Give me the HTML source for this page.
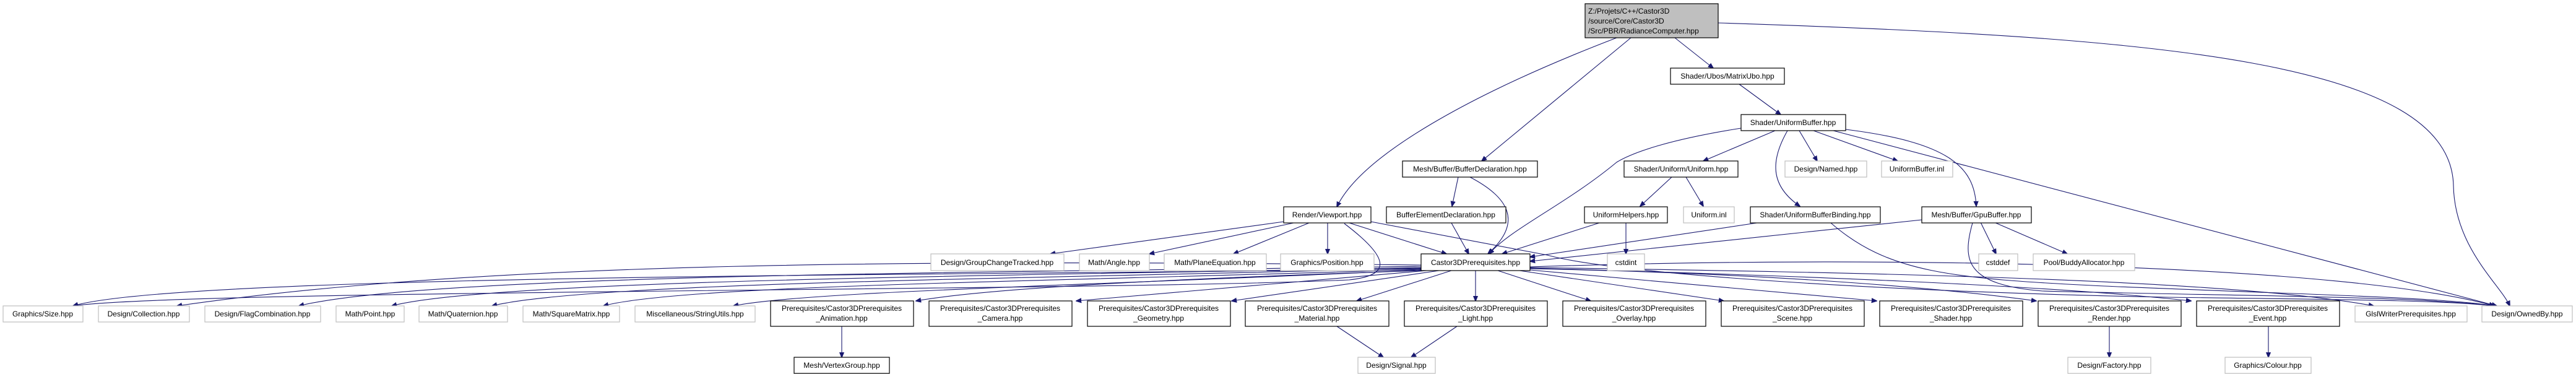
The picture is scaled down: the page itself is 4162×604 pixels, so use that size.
<!DOCTYPE html>
<html><head><meta charset="utf-8"><style>
html,body{margin:0;padding:0;background:#fff;}
svg{display:block}
text{font-family:"Liberation Sans",sans-serif;font-size:12px;fill:#000}
.n{fill:#fff;stroke:#000;stroke-width:1.2}
.g{fill:#fff;stroke:#bfbfbf;stroke-width:1.2}
.e{fill:none;stroke:#191970;stroke-width:1.1}
</style></head><body>
<svg width="4162" height="604" viewBox="0 0 4162 604" xmlns="http://www.w3.org/2000/svg">
<defs><marker id="a" viewBox="0 0 10 10" refX="9" refY="5" markerWidth="9" markerHeight="9" orient="auto" markerUnits="userSpaceOnUse"><path d="M0,1 L10,5 L0,9 z" fill="#191970" stroke="#191970"/></marker></defs>
<g class="e" marker-end="url(#a)">
<!-- main -->
<path d="M2612,61 C2380,150 2200,250 2160,334"/>
<path d="M2635,61 L2394,260"/>
<path d="M2706,61 L2768,110"/>
<path d="M2776,37 C3500,60 3960,100 3964,300 C3966,400 4040,460 4055,494"/>
<path d="M2810,136 L2877,185"/>
<!-- UniformBuffer -->
<path d="M2813,207 C2700,225 2640,245 2612,262 C2530,330 2440,370 2406,410"/>
<path d="M2868,211 L2752,260"/>
<path d="M2888,211 C2860,260 2860,300 2908,333"/>
<path d="M2907,211 L2936,260"/>
<path d="M2930,211 L3066,260"/>
<path d="M2982,209 C3150,230 3190,270 3193,333"/>
<path d="M2962,211 L4034,494"/>
<!-- Uniform -->
<path d="M2701,286 L2650,333"/>
<path d="M2724,286 L2752,333"/>
<!-- UniformHelpers -->
<path d="M2587,359 L2427,410"/>
<path d="M2627,359 L2627,410"/>
<!-- BufferDeclaration -->
<path d="M2356,286 L2346,333"/>
<path d="M2375,286 C2440,320 2460,360 2404,410"/>
<path d="M2345,360 L2373,410"/>
<!-- UniformBufferBinding -->
<path d="M2845,359 L2472,415"/>
<path d="M2958,360 C3050,440 3150,450 3400,462 C3700,475 3950,480 4030,494"/>
<!-- GpuBuffer -->
<path d="M3105,355 L2472,422"/>
<path d="M3200,359 L3225,410"/>
<path d="M3222,359 L3340,410"/>
<path d="M3187,360 C3170,420 3175,460 3300,470 C3600,478 3900,478 4030,494"/>
<!-- Viewport -->
<path d="M2074,358 L1697,410"/>
<path d="M2090,360 L1857,410"/>
<path d="M2115,360 L1993,410"/>
<path d="M2145,360 L2145,410"/>
<path d="M2180,360 L2337,410"/>
<path d="M2172,361 C2250,420 2245,445 2180,452 C1800,470 300,468 118,494"/>
<path d="M2215,358 L2500,412 C2600,440 3000,470 3500,480 C3800,484 3950,485 4030,494"/>
<!-- Castor3DPrerequisites -->
<path d="M2296,434 C1700,445 300,440 118,494"/>
<path d="M2296,428 C1500,420 800,420 286,494"/>
<path d="M2296,430 C1700,440 700,440 483,494"/>
<path d="M2296,432 C1700,445 800,450 633,494"/>
<path d="M2296,433 C1700,450 950,455 795,494"/>
<path d="M2296,435 C1700,455 1100,460 975,494"/>
<path d="M2296,436 C1800,460 1300,470 1185,494"/>
<path d="M2296,437 C1900,450 1600,465 1480,486"/>
<path d="M2305,437 L1739,486"/>
<path d="M2325,437 L1990,486"/>
<path d="M2345,437 L2192,486"/>
<path d="M2384,437 L2384,486"/>
<path d="M2420,437 L2570,486"/>
<path d="M2455,437 L2785,486"/>
<path d="M2472,436 L3032,486"/>
<path d="M2472,434 C2800,440 3100,460 3290,486"/>
<path d="M2472,433 C2900,445 3300,460 3540,486"/>
<path d="M2472,432 C3000,440 3600,450 3835,494"/>
<path d="M2472,431 C3100,410 3800,430 4030,494"/>
<!-- lower -->
<path d="M1360,527 L1360,577"/>
<path d="M2160,527 L2235,577"/>
<path d="M2354,527 L2280,577"/>
<path d="M3408,527 L3408,577"/>
<path d="M3665,527 L3665,577"/>
</g>
<!-- nodes -->
<rect x="2561" y="6" width="215" height="55" fill="#bfbfbf" stroke="#000" stroke-width="1.2"/>
<text x="2566" y="22">Z:/Projets/C++/Castor3D</text>
<text x="2566" y="38">/source/Core/Castor3D</text>
<text x="2566" y="54">/Src/PBR/RadianceComputer.hpp</text>
<g text-anchor="middle">
<rect class="n" x="2699" y="110" width="184" height="26"/><text x="2791" y="127">Shader/Ubos/MatrixUbo.hpp</text>
<rect class="n" x="2813" y="185" width="169" height="26"/><text x="2897" y="202">Shader/UniformBuffer.hpp</text>
<rect class="n" x="2266" y="260" width="218" height="26"/><text x="2375" y="277">Mesh/Buffer/BufferDeclaration.hpp</text>
<rect class="n" x="2624" y="260" width="184" height="26"/><text x="2716" y="277">Shader/Uniform/Uniform.hpp</text>
<rect class="g" x="2884" y="260" width="132" height="26"/><text x="2950" y="277">Design/Named.hpp</text>
<rect class="g" x="3040" y="260" width="115" height="26"/><text x="3097" y="277">UniformBuffer.inl</text>
<rect class="n" x="2074" y="334" width="141" height="26"/><text x="2144" y="351">Render/Viewport.hpp</text>
<rect class="n" x="2240" y="334" width="193" height="26"/><text x="2336" y="351">BufferElementDeclaration.hpp</text>
<rect class="n" x="2560" y="334" width="134" height="26"/><text x="2627" y="351">UniformHelpers.hpp</text>
<rect class="g" x="2720" y="334" width="82" height="26"/><text x="2761" y="351">Uniform.inl</text>
<rect class="n" x="2828" y="334" width="210" height="26"/><text x="2933" y="351">Shader/UniformBufferBinding.hpp</text>
<rect class="n" x="3105" y="334" width="177" height="26"/><text x="3193" y="351">Mesh/Buffer/GpuBuffer.hpp</text>
<rect class="g" x="1504" y="410" width="215" height="27"/><text x="1611" y="428">Design/GroupChangeTracked.hpp</text>
<rect class="g" x="1744" y="410" width="113" height="27"/><text x="1800" y="428">Math/Angle.hpp</text>
<rect class="g" x="1881" y="410" width="165" height="27"/><text x="1963" y="428">Math/PlaneEquation.hpp</text>
<rect class="g" x="2069" y="410" width="151" height="27"/><text x="2144" y="428">Graphics/Position.hpp</text>
<rect class="n" x="2296" y="410" width="176" height="27"/><text x="2384" y="428">Castor3DPrerequisites.hpp</text>
<rect class="g" x="2597" y="410" width="60" height="27"/><text x="2627" y="428">cstdint</text>
<rect class="g" x="3197" y="410" width="63" height="27"/><text x="3228" y="428">cstddef</text>
<rect class="g" x="3285" y="410" width="164" height="27"/><text x="3367" y="428">Pool/BuddyAllocator.hpp</text>
<rect class="g" x="5" y="494" width="129" height="26"/><text x="69" y="511">Graphics/Size.hpp</text>
<rect class="g" x="159" y="494" width="147" height="26"/><text x="232" y="511">Design/Collection.hpp</text>
<rect class="g" x="331" y="494" width="187" height="26"/><text x="424" y="511">Design/FlagCombination.hpp</text>
<rect class="g" x="543" y="494" width="110" height="26"/><text x="598" y="511">Math/Point.hpp</text>
<rect class="g" x="677" y="494" width="143" height="26"/><text x="748" y="511">Math/Quaternion.hpp</text>
<rect class="g" x="845" y="494" width="156" height="26"/><text x="923" y="511">Math/SquareMatrix.hpp</text>
<rect class="g" x="1026" y="494" width="194" height="26"/><text x="1123" y="511">Miscellaneous/StringUtils.hpp</text>
<rect class="g" x="3805" y="494" width="181" height="26"/><text x="3895" y="511">GlslWriterPrerequisites.hpp</text>
<rect class="g" x="4010" y="494" width="146" height="26"/><text x="4083" y="511">Design/OwnedBy.hpp</text>
<rect class="n" x="1245" y="486" width="231" height="41"/><text x="1360" y="502">Prerequisites/Castor3DPrerequisites</text><text x="1360" y="518">_Animation.hpp</text>
<rect class="n" x="1501" y="486" width="231" height="41"/><text x="1616" y="502">Prerequisites/Castor3DPrerequisites</text><text x="1616" y="518">_Camera.hpp</text>
<rect class="n" x="1757" y="486" width="231" height="41"/><text x="1872" y="502">Prerequisites/Castor3DPrerequisites</text><text x="1872" y="518">_Geometry.hpp</text>
<rect class="n" x="2012" y="486" width="232" height="41"/><text x="2128" y="502">Prerequisites/Castor3DPrerequisites</text><text x="2128" y="518">_Material.hpp</text>
<rect class="n" x="2269" y="486" width="231" height="41"/><text x="2384" y="502">Prerequisites/Castor3DPrerequisites</text><text x="2384" y="518">_Light.hpp</text>
<rect class="n" x="2525" y="486" width="231" height="41"/><text x="2640" y="502">Prerequisites/Castor3DPrerequisites</text><text x="2640" y="518">_Overlay.hpp</text>
<rect class="n" x="2781" y="486" width="231" height="41"/><text x="2896" y="502">Prerequisites/Castor3DPrerequisites</text><text x="2896" y="518">_Scene.hpp</text>
<rect class="n" x="3037" y="486" width="231" height="41"/><text x="3152" y="502">Prerequisites/Castor3DPrerequisites</text><text x="3152" y="518">_Shader.hpp</text>
<rect class="n" x="3293" y="486" width="231" height="41"/><text x="3408" y="502">Prerequisites/Castor3DPrerequisites</text><text x="3408" y="518">_Render.hpp</text>
<rect class="n" x="3549" y="486" width="231" height="41"/><text x="3664" y="502">Prerequisites/Castor3DPrerequisites</text><text x="3664" y="518">_Event.hpp</text>
<rect class="n" x="1283" y="577" width="154" height="26"/><text x="1360" y="594">Mesh/VertexGroup.hpp</text>
<rect class="g" x="2194" y="577" width="125" height="26"/><text x="2256" y="594">Design/Signal.hpp</text>
<rect class="g" x="3341" y="577" width="134" height="26"/><text x="3408" y="594">Design/Factory.hpp</text>
<rect class="g" x="3595" y="577" width="139" height="26"/><text x="3664" y="594">Graphics/Colour.hpp</text>
</g>
</svg>
</body></html>
